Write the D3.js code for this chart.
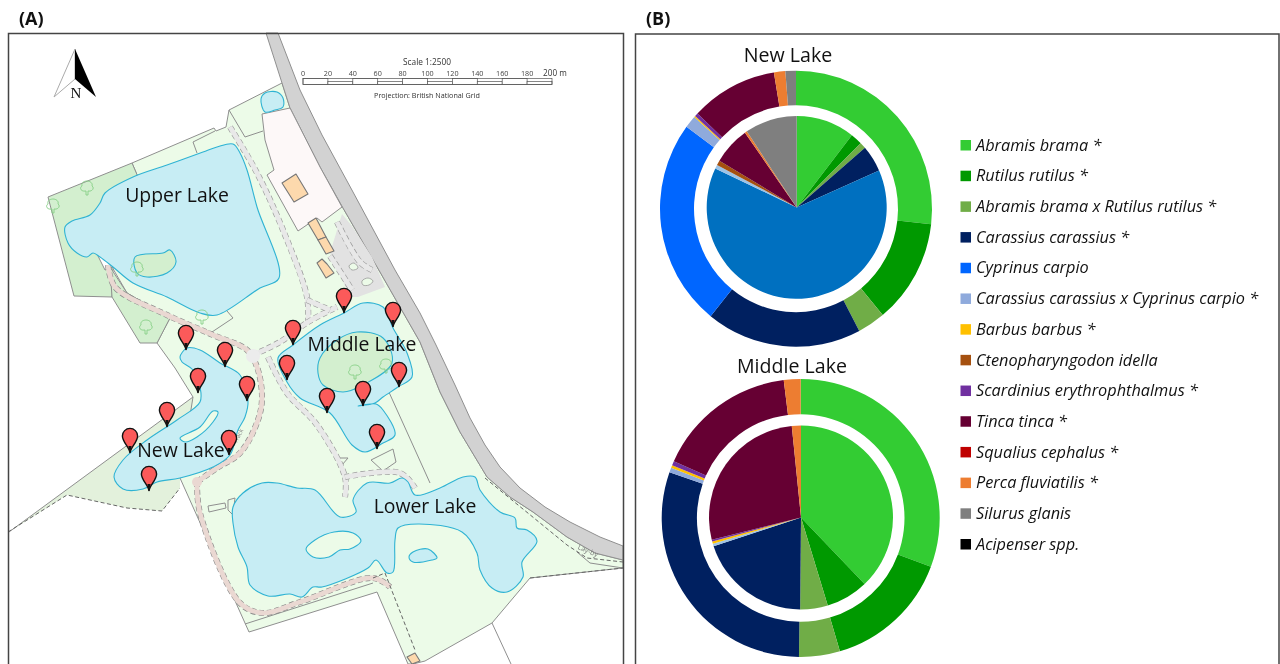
<!DOCTYPE html>
<html><head><meta charset="utf-8">
<script src="https://cdn.jsdelivr.net/npm/d3@7/dist/d3.min.js"></script>
<style>html,body{margin:0;padding:0;background:#fff;overflow:hidden}svg{display:block;filter:blur(0.35px)}text{font-family:"Open Sans",sans-serif}</style>
</head><body><svg id="c" width="1280" height="664"></svg>
<script>
// ---------- pie data (percent of sample) ----------
const species=["Abramis brama *","Rutilus rutilus *","Abramis brama x Rutilus rutilus *","Carassius carassius *","Cyprinus carpio","Carassius carassius x Cyprinus carpio *","Barbus barbus *","Ctenopharyngodon idella","Scardinius erythrophthalmus *","Tinca tinca *","Squalius cephalus *","Perca fluviatilis *","Silurus glanis","Acipenser spp."];
const colors=["#33cc33","#009900","#70ad47","#002060","#0066ff","#8faadc","#ffc000","#a5500f","#7030a0","#660033","#c00000","#ed7d31","#7f7f7f","#000000"];
const innerColors=["#33cc33","#009900","#70ad47","#002060","#0070c0","#9dc3e6","#ffc000","#a5500f","#7030a0","#660033","#c00000","#ed7d31","#7f7f7f","#000000"];
const newOuter=[26.8,12.2,3.3,18.5,24.3,1.45,0.15,0,0.4,10.3,0,1.35,1.25,0];
const newInner=[10.5,2.1,1.1,4.7,63.6,0.7,0,0.85,0,6.7,0,0.4,9.35,0];
const midOuter=[30.7,14.75,4.75,30.15,0,0.55,0.3,0,0.5,16.35,0,1.95,0,0];
const midInner=[37.85,7.45,4.85,19.8,0,0.45,0.4,0,0.3,27.3,0,1.6,0,0];
// ---------- map data (traced outlines) ----------
const scaleTicks=[0,20,40,60,80,100,120,140,160,180,200];
const parkLand=[[132,163],[214,128],[216,131],[226,127],[229,110],[282,83],[290,108],[320,167],[343,208],[380,272],[420,342],[440,392],[460,432],[487,477],[510,497],[533,512],[567,537],[595,553],[623,560],[623,568],[530,578],[492,623],[425,661],[413,664],[408,664],[377,592],[249,632],[180,478],[193,397],[175,368],[157,343],[170,318],[127,293],[112,267],[138,177]];
const greenA=[[48,197],[132,163],[138,177],[140,205],[90,240],[105,270],[113,267],[112,297],[74,296]];
const greenB=[[112,297],[140,343],[157,343],[170,318],[127,293],[110,267]];
const greenC=[[9,532],[193,397],[200,410],[180,480],[180,488],[162,511],[127,508],[67,495]];
const road=[[278,33],[300,90],[322,135],[353,192],[395,270],[420,313],[436,345],[455,385],[470,418],[485,445],[500,467],[520,488],[545,507],[570,522],[600,537],[623,546],[623,560],[595,553],[567,537],[533,512],[510,497],[487,477],[460,432],[440,392],[420,342],[380,272],[343,208],[320,167],[290,108],[282,83],[266,33]];
const estate=[[262,114],[290,108],[320,167],[342,207],[322,222],[317,218],[298,231],[267,175],[274,170],[265,140]];
const carPark=[[330,253],[342,214],[352,226],[372,257],[385,287],[358,297],[350,297]];
const carParkIsles=[[[362,281],[368,278],[373,281],[369,285],[363,285]],[[349,266],[354,263],[358,268],[352,270]]];
const buildings=[[[282,183],[296,174],[308,194],[294,202]],[[308,223],[316,218],[326,237],[318,240]],[[318,240],[326,237],[334,251],[326,254]],[[317,263],[322,259],[327,264],[334,273],[326,278]],[[407,657],[415,653],[420,661],[412,664]]];
const upperLake=[[233,144],[240,153],[247,170],[257,207],[279,278],[260,288],[217,315],[200,313],[167,297],[133,283],[113,267],[100,257],[93,253],[87,257],[77,253],[68,243],[65,227],[72,221],[90,215],[100,203],[105,193],[133,177],[167,165],[203,152],[217,147]];
const upperIsle=[[135,257],[163,253],[170,250],[176,262],[167,273],[147,277],[137,273]];
const middleLake=[[344,313],[363,303],[383,307],[393,328],[407,353],[412,377],[398,387],[383,397],[375,403],[358,406],[376,404],[383,410],[395,435],[383,443],[365,452],[352,445],[330,413],[300,398],[287,382],[278,358],[293,345],[320,325]];
const middleIsle=[[320,358],[337,340],[357,332],[383,338],[392,363],[363,385],[343,392],[323,385],[318,373]];
const newLake=[[187,348],[200,350],[220,363],[240,375],[248,400],[245,417],[238,430],[230,455],[213,467],[180,478],[157,482],[143,489],[123,489],[114,477],[123,460],[147,440],[177,420],[200,402],[200,387],[193,370],[182,362],[180,357]];
const newIsle=[[180,438],[200,427],[213,411],[218,412],[213,422],[197,437],[185,442]];
const lowerLake=[[233,507],[243,493],[262,483],[277,483],[297,488],[315,490],[340,517],[356,512],[353,500],[367,483],[390,483],[402,478],[408,482],[415,495],[440,488],[463,477],[475,477],[480,490],[500,512],[515,518],[517,528],[527,530],[537,541],[522,562],[523,577],[507,592],[492,588],[480,570],[477,553],[462,532],[418,524],[398,528],[395,540],[393,572],[387,573],[376,560],[368,568],[322,587],[313,587],[302,597],[290,594],[268,596],[250,585],[247,567],[238,547],[233,523]];
const lowerIsleA=[[306,549],[315,540],[334,532],[353,533],[361,541],[350,549],[340,550],[329,557],[313,557]];
const lowerIsleB=[[409,557],[413,552],[428,549],[437,558],[432,560],[413,562]];
const topPond=[[261,99],[265,93],[277,92],[283,98],[283,107],[275,110],[265,112]];
const trackNorth=[[108,265],[115,287],[167,315],[213,335],[247,350],[257,367],[262,397],[258,420],[240,453],[217,468],[197,482]];
const trackSouth=[[197,482],[200,513],[240,603],[263,613],[300,602],[373,578],[390,587]];
const paths=[
 [[230,127],[257,173],[283,230],[307,297],[308,322]],
 [[253,355],[280,342],[308,322],[337,307]],
 [[307,300],[330,310]],
 [[268,357],[287,393],[317,425],[345,477],[345,497]],
 [[345,477],[400,473],[415,488]],
 [[337,222],[360,262],[372,270]],
 [[330,256],[352,290]]
];
const solidLines=[[[388,390],[430,483]],[[492,623],[511,664]],[[245,624],[373,583]],[[227,311],[233,318],[212,332],[170,318]],[[577,552],[590,563],[623,568]],[[193,142],[215,131]],[[193,142],[197,153]],[[229,110],[245,137],[263,131]]];
const dashLines=[[[8,532],[67,495],[127,508],[162,511],[180,488]],[[485,478],[567,545],[587,558],[623,562]],[[530,578],[623,568]],[[373,578],[385,573],[415,650]]];
const smallShapes=[[[371,460],[393,449],[396,462],[383,471]],[[338,458],[348,458],[342,465]],[[208,506],[225,503],[226,508],[209,512]],[[228,500],[235,498],[233,515],[228,510]]];
const trees=[[87,188],[146,327],[202,317],[355,372],[137,269],[53,206],[386,366]];
const sites=[[130,453],[167,427],[198,393],[247,401],[229,455],[149,491],[225,367],[186,350],[344,313],[393,327],[293,345],[287,380],[327,413],[363,406],[399,387],[377,449]];
const lakeNames=[["Upper Lake",177,195],["Middle Lake",362,344],["New Lake",181,450],["Lower Lake",425,506]];

const svg=d3.select("#c");
const px=d3.scaleIdentity(), py=d3.scaleIdentity();
const poly=d3.line().x(d=>px(d[0])).y(d=>py(d[1]));
const polyC=d3.line().x(d=>px(d[0])).y(d=>py(d[1])).curve(d3.curveLinearClosed);
const smooth=d3.line().x(d=>px(d[0])).y(d=>py(d[1])).curve(d3.curveCatmullRomClosed.alpha(0.5));
const soft=d3.line().x(d=>px(d[0])).y(d=>py(d[1])).curve(d3.curveCatmullRom.alpha(0.5));

svg.selectAll("text.panel").data([["(A)",19],["(B)",646]]).join("text").attr("class","panel").attr("x",d=>d[1]).attr("y",25).attr("font-size",18).attr("font-weight",700).attr("fill","#111").text(d=>d[0]);

const map=svg.append("g");
const shape=(pts,fill,stroke,w,gen)=>map.append("path").attr("d",(gen||polyC)(pts)).attr("fill",fill).attr("stroke",stroke).attr("stroke-width",w||1).attr("stroke-linejoin","round");
const land="#ecfbe8", water="#c7edf4", shore="#2fb3d3", edge="#8f8f8f", deep="#d3efcf";
shape(greenC,"#e3f1dc","none");
map.append("line").attr("x1",9).attr("y1",532).attr("x2",193).attr("y2",397).attr("stroke",edge);
shape(parkLand,land,edge);
shape(greenA,deep,edge);
shape(greenB,deep,edge);
shape(road,"#d2d2d2",edge);
shape(estate,"#fdf8f8",edge);
shape(carPark,"#e2e2e2","none");
solidLines.forEach(l=>shape(l,"none",edge,1,poly));
smallShapes.forEach(s=>shape(s,land,edge));

[trackNorth,trackSouth].forEach(t=>{
 map.append("path").attr("d",soft(t)).attr("fill","none").attr("stroke","#8a8a8a").attr("stroke-width",6).attr("stroke-dasharray","5 3");
 map.append("path").attr("d",soft(t)).attr("fill","none").attr("stroke","#ead8d2").attr("stroke-width",4.8);
});
paths.forEach(t=>{
 map.append("path").attr("d",soft(t)).attr("fill","none").attr("stroke","#999").attr("stroke-width",6).attr("stroke-dasharray","5 3");
 map.append("path").attr("d",soft(t)).attr("fill","none").attr("stroke","#e8e8e8").attr("stroke-width",4.8);
});
carParkIsles.forEach(s=>shape(s,land,"#999",0.8,smooth));
map.append("circle").attr("cx",px(253)).attr("cy",py(356)).attr("r",7).attr("fill","#ececec");
map.append("circle").attr("cx",px(197)).attr("cy",py(482)).attr("r",5).attr("fill","#ead8d2");
dashLines.forEach(l=>shape(l,"none","#666",1,poly).attr("stroke-dasharray","4 2.5"));

[upperLake,middleLake,newLake,lowerLake,topPond].forEach(l=>shape(l,water,shore,1.1,smooth));
[[upperIsle,deep],[middleIsle,deep],[newIsle,land],[lowerIsleA,land]].forEach(([l,f])=>shape(l,f,shore,1.1,smooth));
shape(lowerIsleB,water,shore,1.1,smooth);
buildings.forEach(b=>shape(b,"#fdd9ad","#777",1.1));

const treeG=map.selectAll("g.tree").data(trees).join("g").attr("class","tree").attr("transform",d=>`translate(${px(d[0])},${py(d[1])})`).attr("fill","none").attr("stroke","#86cf86").attr("stroke-width",0.9);
treeG.append("path").attr("d","M-1,7 L-1,3 C-6,4 -8,0 -5,-2 C-6,-6 -2,-7 0,-7 C3,-7 6,-5 5,-2 C8,0 5,4 1,3 L1,7 Z");

map.append("text").attr("transform","translate(240,437) rotate(-62)").attr("font-size",6).attr("fill","#888").attr("text-anchor","middle").text("Track");
map.append("text").attr("transform","translate(587,553) rotate(24)").attr("font-size",7).attr("fill","#777").attr("text-anchor","middle").text("Lay-by");

const pin=map.selectAll("g.pin").data(sites).join("g").attr("class","pin").attr("transform",d=>`translate(${px(d[0])},${py(d[1])})`);
pin.append("path").attr("d","M0,0 C-0.8,-6 -7.6,-11 -7.6,-17 A7.6,7.6 0 1 1 7.6,-17 C7.6,-11 0.8,-6 0,0 Z").attr("fill","#fb5a5a").attr("stroke","#111").attr("stroke-width",1.4);
pin.append("path").attr("d","M-1.6,-7 L1.6,-7 L0,1 Z").attr("fill","#111");

lakeNames.forEach(([t,x,y])=>map.append("text").attr("x",x).attr("y",y).attr("dy","0.35em").attr("text-anchor","middle").attr("font-size",19.4).attr("fill","#111").text(t));

const north=svg.append("g");
north.append("path").attr("d",poly([[75,49],[54,97],[75,79]])+"Z").attr("fill","#fff").attr("stroke","#aaa").attr("stroke-width",1);
north.append("path").attr("d",poly([[75,49],[96,97],[75,79]])+"Z").attr("fill","#000");
north.append("text").attr("x",76).attr("y",98).attr("text-anchor","middle").attr("font-size",15).style("font-family","'Liberation Serif',serif").attr("fill","#111").text("N");

const sx=d3.scaleLinear().domain([0,200]).range([303,552]);
const sb=svg.append("g");
sb.selectAll("rect").data(d3.pairs(scaleTicks)).join("rect").attr("x",d=>sx(d[0])).attr("width",d=>sx(d[1])-sx(d[0])).attr("y",d=>d[0]%40==0?78.5:81.5).attr("height",d=>d[0]%40==0?6:3).attr("fill","#fff").attr("stroke","#555").attr("stroke-width",0.7);
sb.append("rect").attr("x",sx(0)).attr("y",78.5).attr("width",sx(200)-sx(0)).attr("height",6).attr("fill","none").attr("stroke","#555").attr("stroke-width",0.7);
sb.selectAll("text.t").data(scaleTicks).join("text").attr("class","t").attr("x",d=>sx(d)).attr("y",76).attr("text-anchor","middle").attr("font-size",7.2).attr("fill","#444").text(d=>d==200?"":d);
sb.append("text").attr("x",555).attr("y",76).attr("text-anchor","middle").attr("font-size",8.2).attr("fill","#333").text("200 m");
sb.append("text").attr("x",427).attr("y",65).attr("text-anchor","middle").attr("font-size",8.3).attr("fill","#333").text("Scale 1:2500");
sb.append("text").attr("x",427).attr("y",98).attr("text-anchor","middle").attr("font-size",7.2).attr("fill","#333").text("Projection: British National Grid");

svg.append("rect").attr("x",0).attr("y",0).attr("width",8).attr("height",664).attr("fill","#fff");
svg.append("rect").attr("x",624).attr("y",34).attr("width",11).attr("height",630).attr("fill","#fff");
svg.append("path").attr("d","M8.5,664 V33.5 H623.5 V664").attr("fill","none").attr("stroke","#444").attr("stroke-width",1.5);
svg.append("path").attr("d","M635.5,664 V34 H1279 V664").attr("fill","none").attr("stroke","#444").attr("stroke-width",1.5);

const pie=d3.pie().sort(null).value(d=>d);
function donut(o,i,title,tx,ty,outerVals,innerVals,rOut,rMid,rIn,sy){
 const go=svg.append("g").attr("transform",`translate(${o[0]},${o[1]}) scale(1,${sy})`);
 go.selectAll("path").data(pie(outerVals)).join("path").attr("d",d3.arc().innerRadius(rMid).outerRadius(rOut)).attr("fill",(d,k)=>colors[k]);
 const gi=svg.append("g").attr("transform",`translate(${i[0]},${i[1]}) scale(1,${sy})`);
 gi.selectAll("path").data(pie(innerVals)).join("path").attr("d",d3.arc().innerRadius(0).outerRadius(rIn)).attr("fill",(d,k)=>innerColors[k]);
 svg.append("text").attr("x",tx).attr("y",ty).attr("dy","0.35em").attr("text-anchor","middle").attr("font-size",19.6).attr("fill","#111").text(title);
}
donut([796,208.7],[796.7,207.4],"New Lake",788,55,newOuter,newInner,136,102,90,1.015);
donut([800.7,518],[801,517.5],"Middle Lake",792,366,midOuter,midInner,139,103.8,92,1);

const ly=d3.scalePoint().domain(species).range([145,544]);
const lg=svg.selectAll("g.leg").data(species).join("g").attr("class","leg").attr("transform",d=>`translate(960.5,${ly(d)})`);
lg.append("rect").attr("x",0).attr("y",-5).attr("width",10.5).attr("height",10.5).attr("fill",(d,i)=>colors[i]);
lg.append("text").attr("x",15.5).attr("dy","0.35em").attr("font-size",16.3).attr("font-style","italic").attr("fill","#111").text(d=>d);
</script></body></html>
